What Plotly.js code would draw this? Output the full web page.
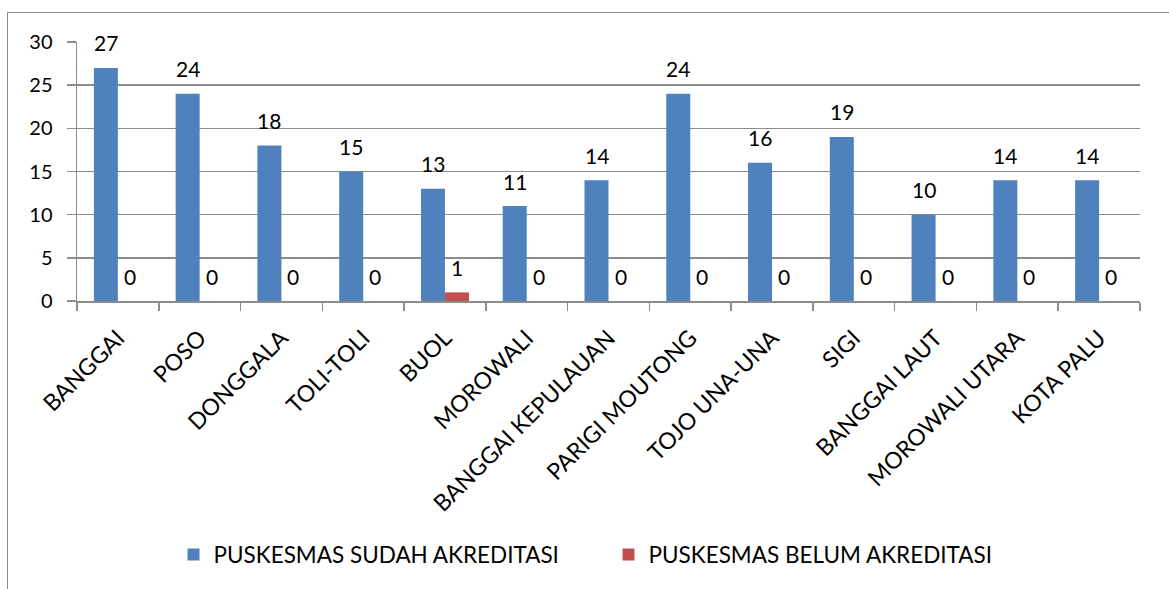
<!DOCTYPE html>
<html>
<head>
<meta charset="utf-8">
<script src="https://cdn.plot.ly/plotly-3.0.1.min.js"></script>
<style>
  html, body { margin: 0; padding: 0; background: #fff; }
  #wrap { position: relative; width: 1169px; height: 589px; overflow: hidden; }
  #chart { width: 1169px; height: 589px; }
  #frame { position: absolute; left: 7px; top: 12px; width: 1170px; height: 600px;
           border-left: 1.5px solid #8c8c8c; border-top: 1.5px solid #8c8c8c; pointer-events: none; }
</style>
</head>
<body>
<div id="wrap">
  <div id="chart"></div>
  <div id="frame"></div>
</div>
<script>
const categories = ["BANGGAI", "POSO", "DONGGALA", "TOLI-TOLI", "BUOL", "MOROWALI",
  "BANGGAI KEPULAUAN", "PARIGI MOUTONG", "TOJO UNA-UNA", "SIGI", "BANGGAI LAUT",
  "MOROWALI UTARA", "KOTA PALU"];
const sudah = [27, 24, 18, 15, 13, 11, 14, 24, 16, 19, 10, 14, 14];
const belum = [0, 0, 0, 0, 1, 0, 0, 0, 0, 0, 0, 0, 0];
const seriesNames = ["PUSKESMAS SUDAH AKREDITASI", "PUSKESMAS BELUM AKREDITASI"];
const yTicks = [0, 5, 10, 15, 20, 25, 30];

const FONT = "Lato, 'Open Sans', sans-serif";
const gray = "#8c8c8c";

const traces = [
  { type: "bar", name: seriesNames[0], x: categories, y: sudah,
    marker: { color: "#4F81BD" }, hoverinfo: "skip" },
  { type: "bar", name: seriesNames[1], x: categories, y: belum,
    marker: { color: "#C0504D" }, hoverinfo: "skip" }
];

const annotations = [];
categories.forEach((c, i) => {
  annotations.push({ x: c, y: sudah[i], xref: "x", yref: "y", text: String(sudah[i]),
    showarrow: false, xshift: -12, yshift: 25, yanchor: "middle",
    font: { family: FONT, size: 21, color: "#000" } });
  annotations.push({ x: c, y: belum[i], xref: "x", yref: "y", text: String(belum[i]),
    showarrow: false, xshift: 12, yshift: 25, yanchor: "middle",
    font: { family: FONT, size: 21, color: "#000" } });
});

const layout = {
  width: 1169, height: 589,
  margin: { l: 77, r: 29, t: 42, b: 284, pad: 0 },
  paper_bgcolor: "#fff", plot_bgcolor: "#fff",
  barmode: "group", bargap: 0.413, bargroupgap: 0,
  font: { family: FONT, size: 20, color: "#000" },
  showlegend: true,
  legend: { orientation: "h", x: 0.5, xanchor: "center", y: -0.98, yanchor: "middle",
    font: { family: FONT, size: 22.5, color: "#000" }, itemwidth: 30, traceorder: "normal",
    entrywidth: 390, entrywidthmode: "pixels" },
  xaxis: {
    type: "category", tickangle: -45, showline: true, linecolor: gray, linewidth: 1.5,
    ticks: "outside", tickson: "boundaries", ticklen: 8, tickcolor: gray, tickwidth: 1.5,
    ticklabelstandoff: 13,
    showgrid: false, tickfont: { family: FONT, size: 23, color: "#000" }, automargin: false
  },
  yaxis: {
    range: [0, 30], tickvals: yTicks, ticktext: yTicks.map(String),
    showline: true, linecolor: gray, linewidth: 1.5,
    ticks: "outside", ticklen: 9, tickcolor: gray, tickwidth: 1.5,
    showgrid: true, gridcolor: gray, gridwidth: 1.5, zeroline: false,
    ticklabelstandoff: 10,
    tickfont: { family: FONT, size: 20, color: "#000" }, automargin: false
  },
  annotations: annotations
};

Plotly.newPlot("chart", traces, layout, { displayModeBar: false, staticPlot: true });
</script>
</body>
</html>
